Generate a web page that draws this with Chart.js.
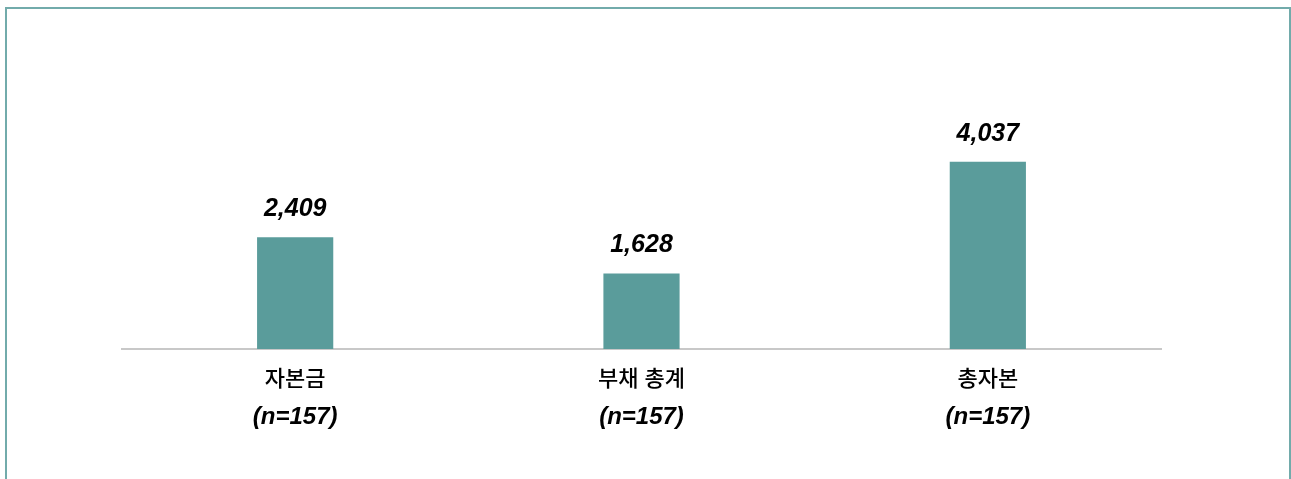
<!DOCTYPE html>
<html>
<head>
<meta charset="utf-8">
<script src="https://cdn.jsdelivr.net/npm/chart.js@4/dist/chart.umd.min.js"></script>
<style>
  html, body { margin: 0; padding: 0; background: #fff; }
  body { width: 1291px; height: 479px; position: relative; overflow: hidden; }
  .frame {
    position: absolute; left: 5px; top: 7px; width: 1282px; height: 500px;
    border: 2px solid #72abab; border-bottom: none;
  }
  #wrap { position: absolute; left: 0; top: 0; width: 1291px; height: 479px; }
</style>
</head>
<body>
<div class="frame"></div>
<div id="wrap"><canvas id="c"></canvas></div>
<script>
/* 자본금 / 부채 / 총자본 bar chart */

const categories = ["자본금", "부채 총계", "총자본"];
const sampleNotes = ["(n=157)", "(n=157)", "(n=157)"];
const values = [2409, 1628, 4037];
const yMax = 5000;

const BAR = "#5a9c9b";
const INK = "#000";
const KFONT = '"Liberation Sans", Arial, "Noto Sans CJK KR", sans-serif';

const fmt = (v) => v.toLocaleString("en-US");

// value labels above bars + two-line category labels under the axis
const labelPlugin = {
  id: "labels",
  afterDatasetsDraw(chart) {
    const ctx = chart.ctx;
    const meta = chart.getDatasetMeta(0);
    const xs = chart.scales.x;
    const bottom = chart.chartArea.bottom;
    ctx.save();
    ctx.fillStyle = INK;
    ctx.textAlign = "center";
    meta.data.forEach((bar, i) => {
      ctx.font = `italic bold 25px ${KFONT}`;
      ctx.textBaseline = "alphabetic";
      ctx.fillText(fmt(values[i]), bar.x, bar.y - 21);

      const x = xs.getPixelForValue(i);
      ctx.textBaseline = "middle";
      ctx.font = `500 22px ${KFONT}`;
      ctx.fillText(categories[i], x, bottom + 31);
      ctx.font = `italic bold 24px ${KFONT}`;
      ctx.fillText(sampleNotes[i], x, bottom + 68);
    });
    ctx.restore();
  },
};

new Chart(document.getElementById("c"), {
  type: "bar",
  data: {
    labels: categories,
    datasets: [{ data: values, backgroundColor: BAR, barPercentage: 0.22, categoryPercentage: 1 }],
  },
  options: {
    responsive: true,
    maintainAspectRatio: false,
    animation: false,
    layout: { padding: { left: 122, right: 130, top: 117, bottom: 130 } },
    plugins: { legend: { display: false }, tooltip: { enabled: false } },
    scales: {
      x: {
        display: true,
        grid: { display: false, drawTicks: false },
        border: { display: true, color: "#c8c8c8", width: 2 },
        ticks: { display: false },
      },
      y: { display: false, min: 0, max: yMax },
    },
  },
  plugins: [labelPlugin],
});
</script>
</body>
</html>
